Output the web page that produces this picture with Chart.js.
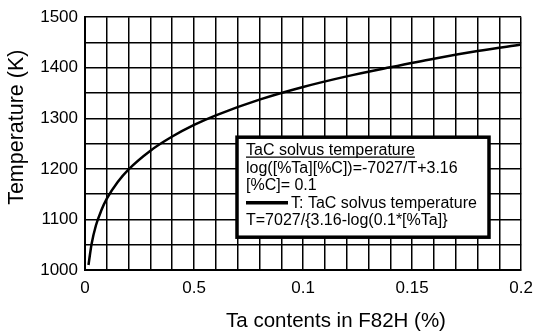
<!DOCTYPE html>
<html>
<head>
<meta charset="utf-8">
<script src="https://cdn.jsdelivr.net/npm/chart.js@4/dist/chart.umd.min.js"></script>
<style>
  html, body { margin: 0; padding: 0; background: #fff; }
  #wrap { width: 541px; height: 334px; }
</style>
</head>
<body>
<div id="wrap"><canvas id="chart" width="541" height="334"></canvas></div>
<script>
// values
const taContent = [0.0016, 0.003, 0.005, 0.0075, 0.01, 0.015, 0.02, 0.03, 0.04, 0.05, 0.06, 0.08, 0.1, 0.12, 0.14, 0.16, 0.18, 0.2];
const solvusTemp = [1010, 1051, 1088, 1118, 1141, 1174, 1199, 1236, 1264, 1287, 1306, 1337, 1362, 1383, 1401, 1418, 1433, 1446];
const xTickLabels = ['0', '0.5', '0.1', '0.15', '0.2'];
const yTickLabels = ['1000', '1100', '1200', '1300', '1400', '1500'];
const legendLines = ['TaC solvus temperature', 'log([%Ta][%C])=-7027/T+3.16', '[%C]= 0.1', 'T: TaC solvus temperature', 'T=7027/{3.16-log(0.1*[%Ta]}'];
const xTitle = 'Ta contents in F82H (%)';
const yTitle = 'Temperature (K)';

const FONT = '"Liberation Sans", Arial, sans-serif';

// axis titles and the boxed legend
const decorations = {
  id: 'decorations',
  afterDraw(chart) {
    const ctx = chart.ctx;
    const ca = chart.chartArea;
    ctx.save();
    ctx.fillStyle = '#000';
    ctx.textAlign = 'center';
    ctx.textBaseline = 'alphabetic';
    ctx.font = '20.5px ' + FONT;
    ctx.fillText(xTitle, ca.left + 251, 327);
    ctx.font = '21.5px ' + FONT;
    ctx.translate(23, ca.top + 110);
    ctx.rotate(-Math.PI / 2);
    ctx.fillText(yTitle, 0, 0);
    ctx.restore();

    // legend box
    const bx = ca.left + 152, by = ca.top + 120, bw = 252, bh = 100;
    ctx.save();
    ctx.fillStyle = '#fff';
    ctx.fillRect(bx, by, bw, bh);
    ctx.strokeStyle = '#000';
    ctx.lineWidth = 3.5;
    ctx.strokeRect(bx, by, bw, bh);
    ctx.fillStyle = '#000';
    ctx.font = '16px ' + FONT;
    ctx.textAlign = 'left';
    ctx.textBaseline = 'alphabetic';
    const tx = bx + 9;
    let ty = by + 18;
    const lh = 17.5;
    legendLines.forEach((t, i) => {
      if (i === 3) {
        const ds = chart.data.datasets[0];
        ctx.strokeStyle = ds.borderColor;
        ctx.lineWidth = 3.5;
        ctx.beginPath();
        ctx.moveTo(tx, ty - 5);
        ctx.lineTo(tx + 42, ty - 5);
        ctx.stroke();
        ctx.fillText(t, tx + 45, ty);
      } else {
        ctx.fillText(t, tx, ty);
      }
      if (i === 0) {
        const w = ctx.measureText(t).width;
        ctx.lineWidth = 1.2;
        ctx.strokeStyle = '#000';
        ctx.beginPath();
        ctx.moveTo(tx, ty + 2);
        ctx.lineTo(tx + w, ty + 2);
        ctx.stroke();
      }
      ty += lh;
    });
    ctx.restore();
  }
};

const ctx = document.getElementById('chart').getContext('2d');
new Chart(ctx, {
  type: 'line',
  data: {
    datasets: [{
      label: 'T: TaC solvus temperature',
      data: taContent.map((x, i) => ({ x: x, y: solvusTemp[i] })),
      borderColor: '#000',
      borderWidth: 2.5,
      pointRadius: 0,
      fill: false,
      cubicInterpolationMode: 'monotone'
    }]
  },
  options: {
    responsive: false,
    animation: false,
    layout: { padding: { top: 13, right: 11, left: 0, bottom: 0 } },
    plugins: {
      legend: { display: false },
      tooltip: { enabled: false }
    },
    scales: {
      x: {
        type: 'linear',
        min: 0,
        max: 0.2,
        afterFit: (scale) => { scale.height = 64; },
        grid: { color: '#000', lineWidth: 1.5, drawTicks: false },
        border: { color: '#000', width: 2 },
        ticks: {
          stepSize: 0.01,
          maxTicksLimit: 100,
          autoSkip: false,
          maxRotation: 0,
          padding: 8,
          color: '#000',
          font: { family: FONT, size: 17 },
          callback: (v, i) => (i % 5 === 0 ? xTickLabels[i / 5] : '')
        }
      },
      y: {
        min: 1000,
        max: 1500,
        afterFit: (scale) => { scale.width = 85; },
        grid: { color: '#000', lineWidth: 1.5, drawTicks: false },
        border: { color: '#000', width: 2 },
        ticks: {
          stepSize: 50,
          maxTicksLimit: 100,
          autoSkip: false,
          padding: 7,
          color: '#000',
          font: { family: FONT, size: 17 },
          callback: (v, i) => (i % 2 === 0 ? yTickLabels[i / 2] : '')
        }
      }
    }
  },
  plugins: [decorations]
});
</script>
</body>
</html>
